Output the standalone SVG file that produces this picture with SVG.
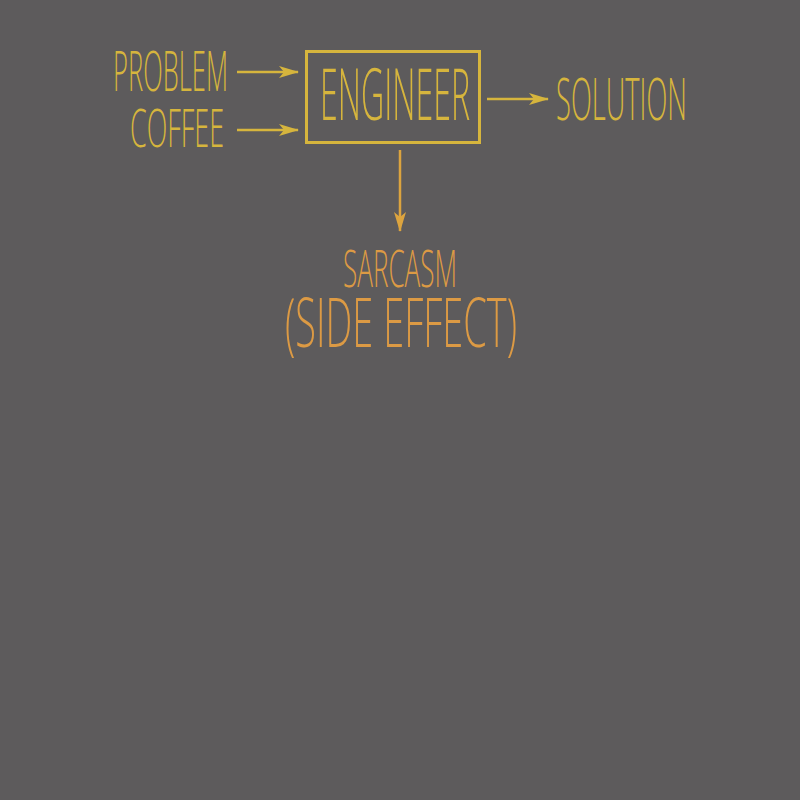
<svg xmlns="http://www.w3.org/2000/svg" width="800" height="800" viewBox="0 0 800 800">
<defs>
<marker id="ah" viewBox="0 0 20 12" refX="19" refY="6" markerWidth="20" markerHeight="12" markerUnits="userSpaceOnUse" orient="auto">
<path d="M0,0 L20,6 L0,12 L5,6 Z" fill="context-stroke"/>
</marker>
<marker id="ahy" viewBox="0 0 20 12" refX="19" refY="6" markerWidth="20" markerHeight="12" markerUnits="userSpaceOnUse" orient="auto">
<path d="M0,0 L20,6 L0,12 L5,6 Z" fill="#d6b53d"/>
</marker>
<marker id="aho" viewBox="0 0 20 12" refX="19" refY="6" markerWidth="20" markerHeight="12" markerUnits="userSpaceOnUse" orient="auto">
<path d="M0,0 L20,6 L0,12 L5,6 Z" fill="#dca43f"/>
</marker>
</defs>
<style>
.t{font-family:"Open Sans","Liberation Sans",sans-serif;font-weight:300;}
.y{fill:#d6b53d;}
.o{fill:#dc9a44;}
.c{fill:none;stroke-width:2.5;}
</style>
<rect width="800" height="800" fill="#5d5b5c"/>
<g id="problem"><text class="t y" x="113" y="91" font-size="56" textLength="115" lengthAdjust="spacingAndGlyphs">PROBLEM</text></g>
<g id="coffee"><text class="t y" x="130" y="147" font-size="54" textLength="94" lengthAdjust="spacingAndGlyphs">COFFEE</text></g>
<g id="engineer">
<rect x="306.5" y="51.5" width="173" height="91" fill="none" stroke="#d6b53d" stroke-width="3"/>
<text class="t y" x="320" y="120" font-size="72" textLength="150" lengthAdjust="spacingAndGlyphs">ENGINEER</text>
</g>
<g id="solution"><text class="t y" x="556" y="120" font-size="59" textLength="131" lengthAdjust="spacingAndGlyphs">SOLUTION</text></g>
<g id="sarcasm">
<text class="t o" x="343" y="287" font-size="52" textLength="114" lengthAdjust="spacingAndGlyphs">SARCASM</text>
<text class="t o" x="285" y="347" font-size="68" textLength="232" lengthAdjust="spacingAndGlyphs">(SIDE EFFECT)</text>
</g>
<g id="connectors">
<line class="c" x1="237" y1="72" x2="298" y2="72" stroke="#d6b53d" marker-end="url(#ahy)"/>
<line class="c" x1="237" y1="130" x2="298" y2="130" stroke="#d6b53d" marker-end="url(#ahy)"/>
<line class="c" x1="487" y1="99" x2="548" y2="99" stroke="#d6b53d" marker-end="url(#ahy)"/>
<line class="c" x1="400" y1="150" x2="400" y2="231" stroke="#dca43f" marker-end="url(#aho)"/>
</g>
</svg>
